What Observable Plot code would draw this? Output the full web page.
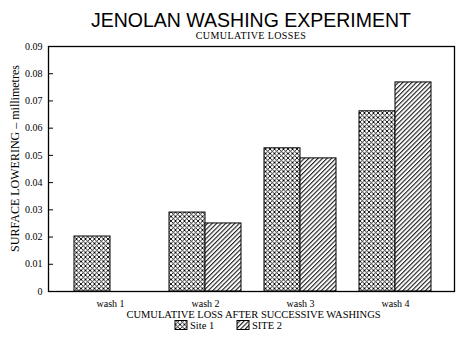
<!DOCTYPE html>
<html><head><meta charset="utf-8">
<script src="https://cdn.jsdelivr.net/npm/d3@7"></script>
<script src="https://cdn.jsdelivr.net/npm/@observablehq/plot@0.6"></script>
<style>
body{margin:0;background:#fff;width:470px;height:353px;overflow:hidden;}
#title{height:30px;box-sizing:border-box;padding-top:9px;line-height:22px;font-family:"Liberation Sans",Arial,sans-serif;font-size:19.5px;text-align:center;padding-left:32px;white-space:nowrap;color:#000;}
#subtitle{height:11px;line-height:11px;font-family:"Liberation Serif",serif;font-size:10px;text-align:center;padding-left:32px;white-space:nowrap;letter-spacing:0.4px;color:#000;}
svg{display:block;}
</style></head>
<body>
<svg width="0" height="0" style="position:absolute">
<defs>
<pattern id="cross" patternUnits="userSpaceOnUse" width="4.5" height="4.5">
<rect width="4.5" height="4.5" fill="white"/>
<path d="M-1,-1L5.5,5.5M5.5,-1L-1,5.5" stroke="black" stroke-width="0.9"/>
</pattern>
<pattern id="diag" patternUnits="userSpaceOnUse" width="3.2" height="3.2" patternTransform="rotate(45)">
<rect width="3.2" height="3.2" fill="white"/>
<line x1="0.6" y1="-1" x2="0.6" y2="5" stroke="black" stroke-width="1"/>
</pattern>
</defs>
</svg>
<div id="title">JENOLAN WASHING EXPERIMENT</div>
<div id="subtitle">CUMULATIVE LOSSES</div>
<div id="chart"></div>
<div id="legend"></div>
<script>
const washes = ["wash 1", "wash 2", "wash 3", "wash 4"];
const site1 = [0.0202, 0.0290, 0.0526, 0.0662];
const site2 = [null, 0.0250, 0.0489, 0.0768];
const seriesNames = ["Site 1", "SITE 2"];
const seriesFills = ["url(#cross)", "url(#diag)"];
const yTicks = [0, 0.01, 0.02, 0.03, 0.04, 0.05, 0.06, 0.07, 0.08, 0.09];
const yLabel = "SURFACE LOWERING \u2013 millimetres";
const xLabel = "CUMULATIVE LOSS AFTER SUCCESSIVE WASHINGS";

const rows = [];
washes.forEach((w, i) => {
  if (site1[i] != null) rows.push({wash: w, series: seriesNames[0], value: site1[i]});
  if (site2[i] != null) rows.push({wash: w, series: seriesNames[1], value: site2[i]});
});

const W = 470, mL = 48, mR = 16, insL = 25, insR = 22.5, pInner = 0.246;
const step = (W - mL - mR - insL - insR) / (washes.length - pInner);
const half = step * (1 - pInner) / 2;

const serif = "Liberation Serif, Times New Roman, serif";
const plot = Plot.plot({
  width: W,
  height: 279,
  marginLeft: mL,
  marginRight: mR,
  marginTop: 5,
  marginBottom: 29,
  style: {fontFamily: serif, fontSize: "10px", background: "white", color: "black", overflow: "visible"},
  x: {type: "band", domain: washes, paddingInner: pInner, paddingOuter: 0, insetLeft: insL, insetRight: insR, label: null},
  y: {domain: [0, 0.09], label: null},
  marks: [
    Plot.barY(rows.filter(d => d.series === seriesNames[0]), {x: "wash", y: "value", fill: seriesFills[0], stroke: "black", strokeWidth: 1, insetRight: half}),
    Plot.barY(rows.filter(d => d.series === seriesNames[1]), {x: "wash", y: "value", fill: seriesFills[1], stroke: "black", strokeWidth: 1, insetLeft: half}),
    Plot.frame({stroke: "black", strokeWidth: 1.3}),
    Plot.axisY({ticks: yTicks, tickSize: -5, tickPadding: 11, tickFormat: d => d === 0 ? "0" : d.toFixed(2), label: null, fontSize: 10}),
    Plot.axisX({tickSize: 0, tickPadding: 8, label: null, fontSize: 10}),
    Plot.text([xLabel], {text: d => d, frameAnchor: "bottom", textAnchor: "middle", lineAnchor: "middle", dy: 23, dx: 2, fontSize: 10.5}),
    Plot.text([yLabel], {text: d => d, frameAnchor: "left", textAnchor: "middle", lineAnchor: "middle", rotate: -90, dx: -33.5, dy: -10.5, fontSize: 12})
  ]
});
document.getElementById("chart").appendChild(plot);

// legend
const ns = "http://www.w3.org/2000/svg";
const lg = document.createElementNS(ns, "svg");
lg.setAttribute("width", 470); lg.setAttribute("height", 24);
const lx = [175, 237];
seriesNames.forEach((name, i) => {
  const r = document.createElementNS(ns, "rect");
  r.setAttribute("x", lx[i]); r.setAttribute("y", 0.5);
  r.setAttribute("width", 12); r.setAttribute("height", 9);
  r.setAttribute("fill", seriesFills[i]); r.setAttribute("stroke", "black"); r.setAttribute("stroke-width", 1);
  lg.appendChild(r);
  const t = document.createElementNS(ns, "text");
  t.setAttribute("x", lx[i] + 15); t.setAttribute("y", 8.5);
  t.setAttribute("font-family", serif); t.setAttribute("font-size", 10.5);
  t.textContent = name;
  lg.appendChild(t);
});
document.getElementById("legend").appendChild(lg);
</script>
</body></html>
